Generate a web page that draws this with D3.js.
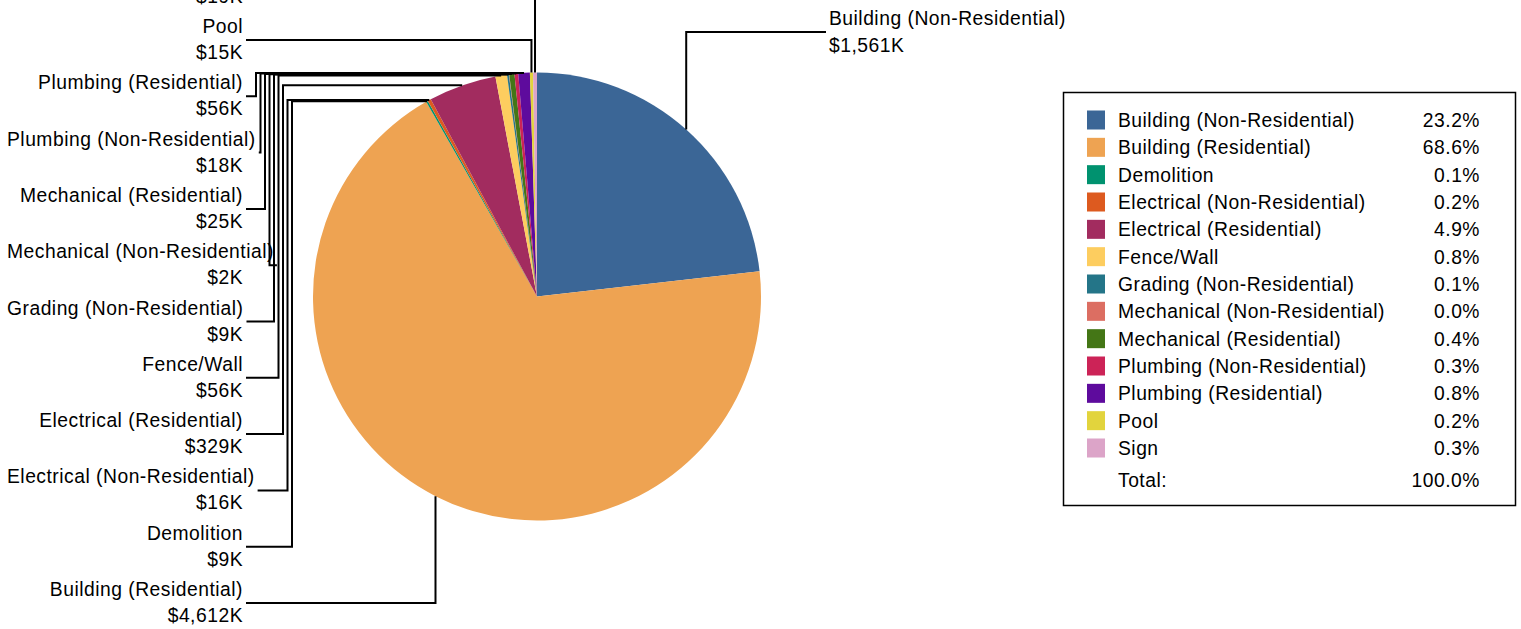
<!DOCTYPE html>
<html>
<head>
<meta charset="utf-8">
<script src="https://cdn.jsdelivr.net/npm/d3@7"></script>
<style>
  body { margin: 0; background: #fff; }
  text { font-family: "Liberation Sans", Arial, sans-serif; font-size: 19.3px; letter-spacing: 0.5px; fill: #000; }
</style>
</head>
<body>
<svg id="chart" width="1521" height="629"></svg>
<script>
// permit categories and valuation in $K
var categories = ["Building (Non-Residential)", "Building (Residential)", "Demolition",
  "Electrical (Non-Residential)", "Electrical (Residential)", "Fence/Wall",
  "Grading (Non-Residential)", "Mechanical (Non-Residential)", "Mechanical (Residential)",
  "Plumbing (Non-Residential)", "Plumbing (Residential)", "Pool", "Sign"];
var values = [1561, 4612, 9, 16, 329, 56, 9, 2, 25, 18, 56, 15, 19];
var colors = ["#3b6696", "#eea352", "#00926f", "#dd5a1f", "#a22c5f", "#fdcd5f",
  "#247588", "#dc6e62", "#447616", "#cc2357", "#5e0b9d", "#e2d43d", "#dca4c8"];

var svg = d3.select("#chart");
var cx = 537, cy = 296.5, r = 224;
var total = d3.sum(values);
var fmtK = function(v) { return "$" + d3.format(",")(v) + "K"; };
var fmtPct = d3.format(".1%");

var pie = d3.pie().sort(null).value(function(d) { return d; });
var arcs = pie(values);
var arc = d3.arc().innerRadius(0).outerRadius(r);

var g = svg.append("g").attr("transform", "translate(" + cx + "," + cy + ")");
g.selectAll("path.slice")
  .data(arcs)
  .enter().append("path")
  .attr("class", "slice")
  .attr("d", arc)
  .style("fill", function(d, i) { return colors[i]; });

function anchor(d) {
  var a = (d.startAngle + d.endAngle) / 2;
  return [cx + r * Math.sin(a), cy - r * Math.cos(a)];
}

var lines = svg.append("g").attr("fill", "none").attr("stroke", "#000").attr("stroke-width", 2);
var labels = svg.append("g");

// right side label (first slice)
var p0 = anchor(arcs[0]);
var ry = 32;
lines.append("path").attr("d", d3.line()([p0, [p0[0], ry], [826, ry]]));
labels.append("text").attr("x", 829).attr("y", ry - 14 + 7).text(categories[0]);
labels.append("text").attr("x", 829).attr("y", ry + 13 + 7).text(fmtK(values[0]));

// left side labels, from bottom to top
var textRight = 243, leftMargin = 7, step = 56.3, bottomY = 589;
var channelX = 292, channelStep = 4.5;
for (var k = 1; k < categories.length; k++) {
  var nameY = bottomY - (k - 1) * step;
  var ly = nameY + 14;
  var p = anchor(arcs[k]);
  var catText = labels.append("text").attr("x", textRight).attr("y", nameY + 7)
    .attr("text-anchor", "end").text(categories[k]);
  var w = catText.node().getComputedTextLength();
  var lineStart = textRight + 3;
  if (textRight - w < leftMargin) {
    // long names are pushed right so they start at the margin
    catText.attr("x", leftMargin).attr("text-anchor", "start");
    lineStart = leftMargin + w + 3;
  }
  labels.append("text").attr("x", textRight).attr("y", nameY + 26 + 7)
    .attr("text-anchor", "end").text(fmtK(values[k]));
  var pts;
  if (p[1] > cy || ly < p[1]) {
    pts = [[lineStart, ly], [p[0], ly], p];
  } else {
    pts = [[lineStart, ly], [channelX, ly], [channelX, p[1]], p];
    channelX -= channelStep;
  }
  lines.append("path").attr("d", d3.line()(pts));
}

// legend
var lg = svg.append("g");
lg.append("rect").attr("x", 1063.5).attr("y", 92.5).attr("width", 452).attr("height", 413)
  .attr("fill", "#fff").attr("stroke", "#000").attr("stroke-width", 1.5);
var rowY = d3.scaleLinear().domain([0, 12]).range([120, 448]);
categories.forEach(function(c, i) {
  var y = rowY(i);
  lg.append("rect").attr("x", 1087).attr("y", y - 9.5).attr("width", 18).attr("height", 19)
    .attr("fill", colors[i]);
  lg.append("text").attr("x", 1118).attr("y", y + 7).text(c);
  lg.append("text").attr("x", 1480).attr("y", y + 7).attr("text-anchor", "end")
    .text(fmtPct(values[i] / total));
});
var ty = rowY(categories.length) + 5;
lg.append("text").attr("x", 1118).attr("y", ty + 7).text("Total:");
lg.append("text").attr("x", 1480).attr("y", ty + 7).attr("text-anchor", "end").text(fmtPct(1));
</script>
</body>
</html>
